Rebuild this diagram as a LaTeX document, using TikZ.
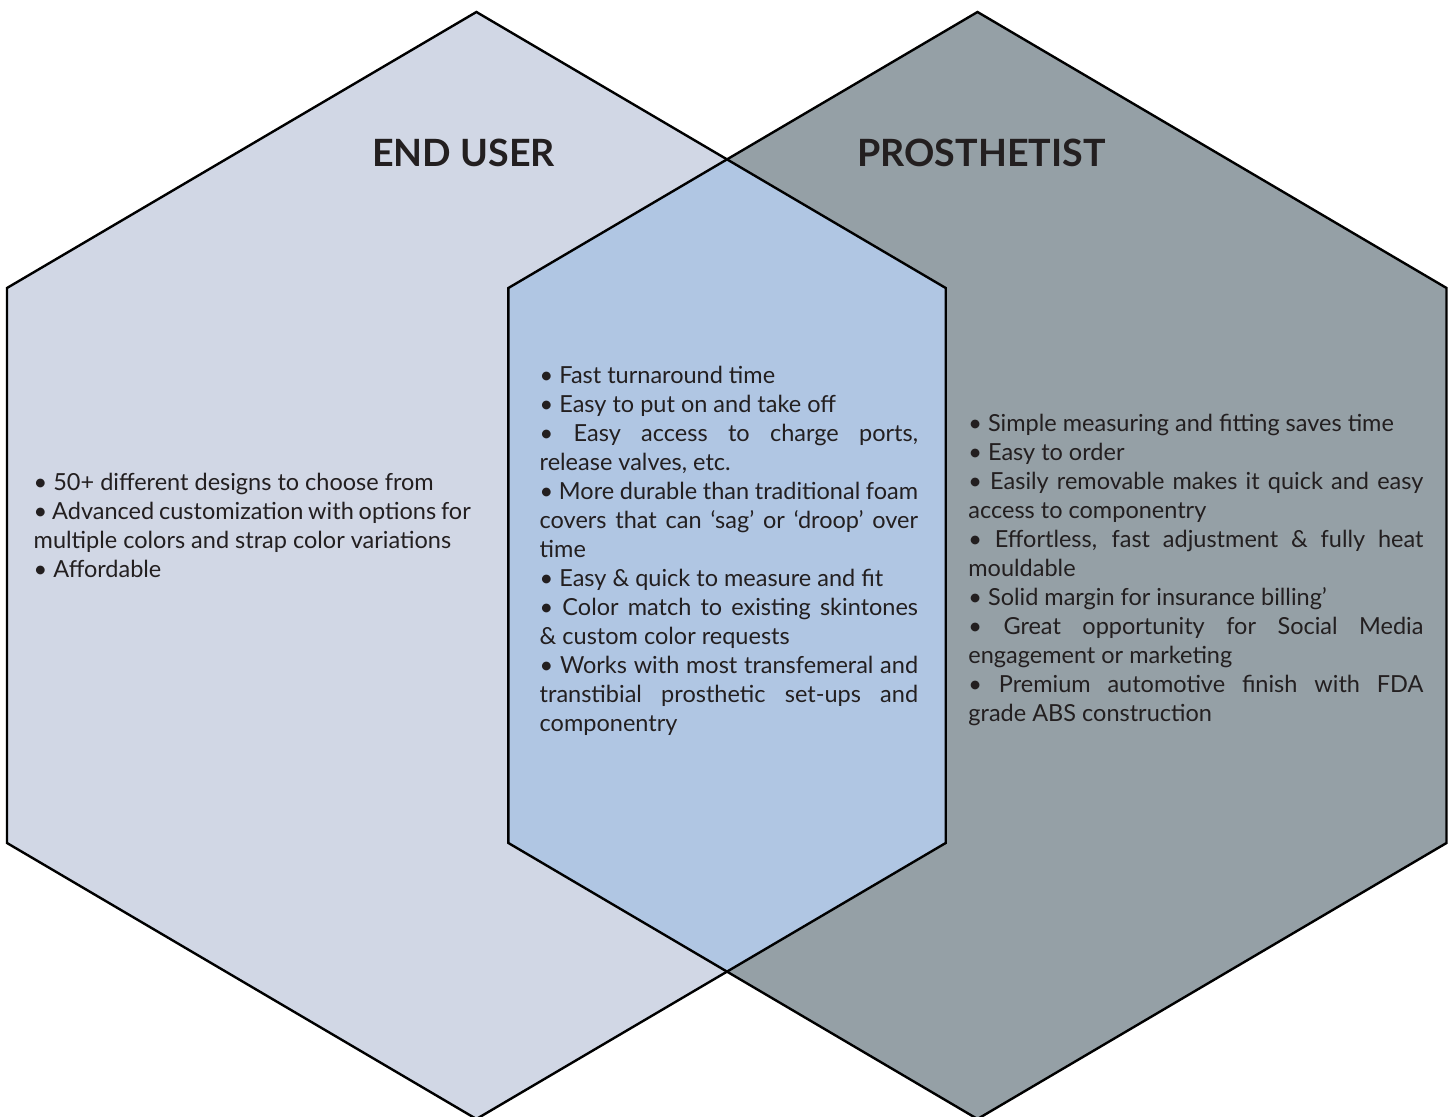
\documentclass[tikz,border=0pt]{standalone}
\usepackage{fontspec}
\setmainfont{Lato}
\definecolor{leftfill}{HTML}{D1D7E5}
\definecolor{rightfill}{HTML}{95A0A6}
\definecolor{midfill}{HTML}{B0C6E3}
\definecolor{textc}{HTML}{231F20}
\tikzset{
  hexline/.style={draw=black, line width=1.2pt, line join=miter},
  bodytext/.style={inner sep=0pt, anchor=north west, align=justify, text=textc,
    font=\fontsize{11.75}{14.5}\selectfont},
  titletext/.style={inner sep=0pt, anchor=base, text=textc,
    font=\fontsize{18.8}{22}\selectfont\bfseries}
}
\newcommand{\bodysetup}{\parindent=0pt\hyphenpenalty=10000\tolerance=10000\relax}
\begin{document}
\begin{tikzpicture}[x=0.5pt,y=-0.5pt]
\useasboundingbox (0,0) rectangle (1453,1117);
% hexagon fills
\fill[leftfill] (476.4,12) -- (945.7,288) -- (945.7,843) -- (476.4,1119) -- (7,843) -- (7,288) -- cycle;
\fill[rightfill] (977.5,12) -- (1446.5,288) -- (1446.5,843) -- (977.5,1119) -- (508.4,843) -- (508.4,288) -- cycle;
\fill[midfill] (726.7,159.3) -- (945.7,288) -- (945.7,843) -- (726.7,971.9) -- (508.4,843) -- (508.4,288) -- cycle;
% outlines
\draw[hexline] (476.4,12) -- (945.7,288) -- (945.7,843) -- (476.4,1119) -- (7,843) -- (7,288) -- cycle;
\draw[hexline] (977.5,12) -- (1446.5,288) -- (1446.5,843) -- (977.5,1119) -- (508.4,843) -- (508.4,288) -- cycle;
% titles
\node[titletext] (tEnd) at (463.5,166.7) {END USER};
\node[titletext] (tPro) at (981.5,166.7) {PROSTHETIST};
% texts
\node[bodytext, text width=218.5pt] (leftTxt) at (33.3,473) {\bodysetup
• 50+ different designs to choose from\par
• Advanced customization with options for\linebreak multiple colors and strap color variations\par
• Affordable};
\node[bodytext, text width=189.2pt] (midTxt) at (539.3,366) {\bodysetup
• Fast turnaround time\par
• Easy to put on and take off\par
• Easy access to charge ports,\linebreak release valves, etc.\par
• More durable than traditional foam\linebreak covers that can ‘sag’ or ‘droop’ over\linebreak time\par
• Easy \& quick to measure and fit\par
• Color match to existing skintones\linebreak \& custom color requests\par
• Works with most transfemeral and\linebreak transtibial prosthetic set-ups and\linebreak componentry};
\node[bodytext, text width=227.5pt] (rightTxt) at (968,414) {\bodysetup
• Simple measuring and fitting saves time\par
• Easy to order\par
• Easily removable makes it quick and easy\linebreak access to componentry\par
• Effortless, fast adjustment \& fully heat\linebreak mouldable\par
• Solid margin for insurance billing’\par
• Great opportunity for Social Media\linebreak engagement or marketing\par
• Premium automotive finish with FDA\linebreak grade ABS construction};
\end{tikzpicture}
\end{document}
